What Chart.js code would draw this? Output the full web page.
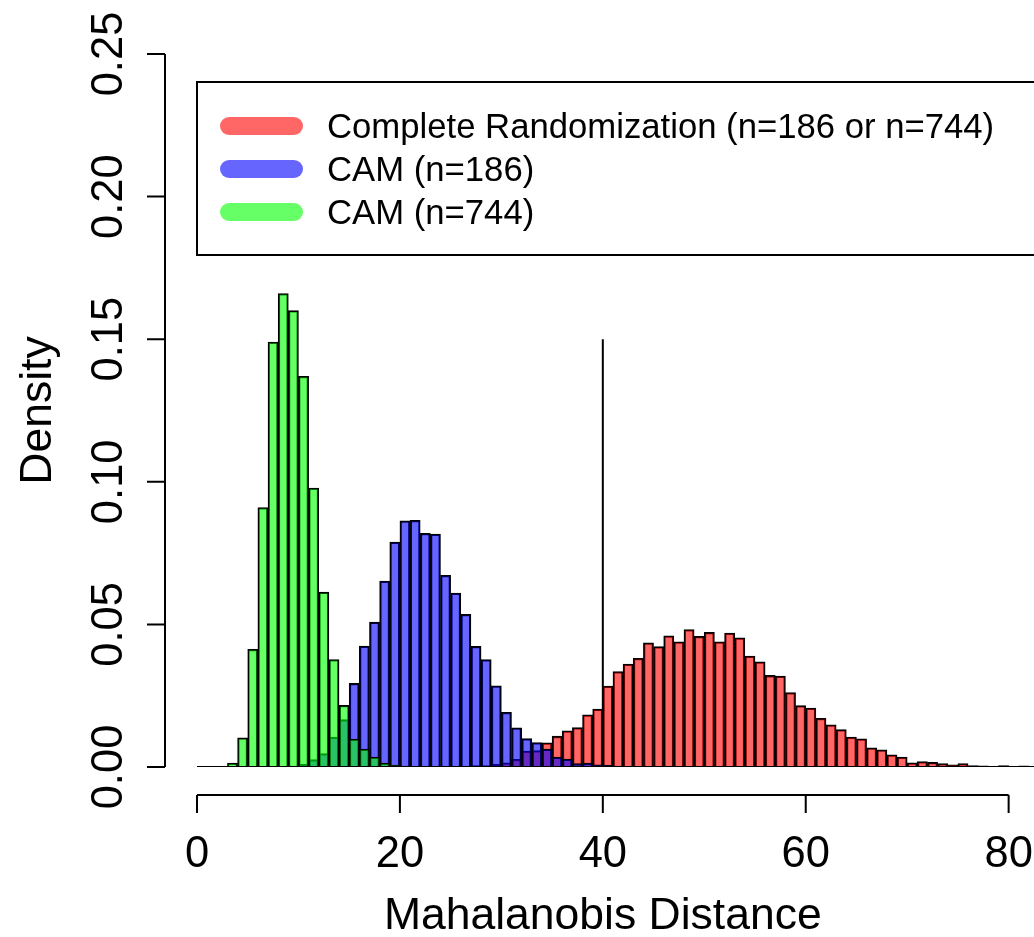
<!DOCTYPE html>
<html>
<head>
<meta charset="utf-8">
<script src="https://cdn.jsdelivr.net/npm/chart.js@4/dist/chart.umd.min.js"></script>
<style>
  html, body { margin: 0; padding: 0; background: #fff; }
  #wrap { width: 1034px; height: 937px; position: relative; }
</style>
</head>
<body>
<div id="wrap"><canvas id="grafico"></canvas></div>
<script>
// bin lower edges (width 1)
const binStarts = [];
for (let i = 0; i <= 82; i++) binStarts.push(i);

// density per bin
const densCR = [
  0, 0, 0, 0, 0, 0, 0, 0, 0, 0,
  0, 0, 0, 0, 0, 0, 0, 0, 0, 0,
  0, 0, 0.0001, 0.0001, 0.0001, 0.0002, 0.0002, 0.0005, 0.0005, 0.0009,
  0.0015, 0.0027, 0.0056, 0.0058, 0.0085, 0.0108, 0.0127, 0.0138, 0.0183, 0.0203,
  0.0284, 0.0335, 0.0361, 0.0381, 0.0435, 0.0422, 0.0460, 0.0439, 0.0482, 0.0458,
  0.0472, 0.0439, 0.0470, 0.0453, 0.0389, 0.0369, 0.0321, 0.0319, 0.0261, 0.0215,
  0.0207, 0.0171, 0.0148, 0.0131, 0.0105, 0.0099, 0.0067, 0.0060, 0.0043, 0.0035,
  0.0015, 0.0019, 0.0016, 0.0012, 0.0008, 0.0012, 0.0005, 0.0004, 0.0002, 0.0005,
  0.0002, 0.0004, 0.0001
];
const densCAM186 = [
  0, 0, 0, 0, 0, 0, 0, 0, 0, 0.0003,
  0.0009, 0.0026, 0.0047, 0.0105, 0.0166, 0.0293, 0.0424, 0.0508, 0.0652, 0.0789,
  0.0863, 0.0865, 0.0819, 0.0817, 0.0672, 0.0610, 0.0535, 0.0423, 0.0377, 0.0285,
  0.0192, 0.0137, 0.0100, 0.0086, 0.0063, 0.0035, 0.0028, 0.0012, 0.0014, 0.0008,
  0.0006, 0.0003, 0.0002, 0.0001
];
const densCAM744 = [
  0, 0, 0, 0.0014, 0.0102, 0.0413, 0.0910, 0.1490, 0.1660, 0.1600,
  0.1370, 0.0978, 0.0613, 0.0377, 0.0216, 0.0098, 0.0063, 0.0035, 0.0014, 0.0007,
  0.0003, 0.0001
];

const legendLabels = ['Complete Randomization (n=186 or n=744)', 'CAM (n=186)', 'CAM (n=744)'];
const xTicks = [0, 20, 40, 60, 80];
const xTickLabels = ['0', '20', '40', '60', '80'];
const yTicks = [0, 0.05, 0.10, 0.15, 0.20, 0.25];
const yTickLabels = ['0.00', '0.05', '0.10', '0.15', '0.20', '0.25'];
const cutoff = 40;       // vertical reference line
const cutoffTop = 0.15;

const colRojo = 'rgba(255, 0, 0, 0.6)';
const colAzul = 'rgba(0, 0, 255, 0.6)';
const colVerde = 'rgba(0, 255, 0, 0.6)';

function toPoints(values) {
  return values.map((v, i) => ({ x: binStarts[i] + 0.5, y: v }));
}

const FONT = '"Liberation Sans", Arial, Helvetica, sans-serif';

// R style detached axes, axis titles and legend box
const ejesR = {
  id: 'ejesR',
  afterDraw(chart) {
    const { ctx, scales: { x, y } } = chart;
    ctx.save();
    ctx.strokeStyle = '#000';
    ctx.fillStyle = '#000';
    ctx.lineWidth = 2;

    // y axis
    const yAxisX = 165;
    ctx.beginPath();
    ctx.moveTo(yAxisX, y.getPixelForValue(yTicks[0]));
    ctx.lineTo(yAxisX, y.getPixelForValue(yTicks[yTicks.length - 1]));
    yTicks.forEach(t => {
      const py = y.getPixelForValue(t);
      ctx.moveTo(yAxisX, py);
      ctx.lineTo(147, py);
    });
    ctx.stroke();
    ctx.font = '43.5px ' + FONT;
    ctx.textAlign = 'center';
    ctx.textBaseline = 'alphabetic';
    yTicks.forEach((t, i) => {
      ctx.save();
      ctx.translate(122, y.getPixelForValue(t));
      ctx.rotate(-Math.PI / 2);
      ctx.fillText(yTickLabels[i], 0, 0);
      ctx.restore();
    });

    // x axis
    const xAxisY = 795;
    ctx.beginPath();
    ctx.moveTo(x.getPixelForValue(xTicks[0]), xAxisY);
    ctx.lineTo(x.getPixelForValue(xTicks[xTicks.length - 1]), xAxisY);
    xTicks.forEach(t => {
      const px = x.getPixelForValue(t);
      ctx.moveTo(px, xAxisY);
      ctx.lineTo(px, 813);
    });
    ctx.stroke();
    xTicks.forEach((t, i) => {
      ctx.fillText(xTickLabels[i], x.getPixelForValue(t), 867);
    });

    // axis titles
    ctx.font = '44.5px ' + FONT;
    ctx.fillText('Mahalanobis Distance', x.getPixelForValue(40), 929);
    ctx.save();
    ctx.translate(51, (y.top + y.bottom) / 2);
    ctx.rotate(-Math.PI / 2);
    ctx.fillText('Density', 0, 0);
    ctx.restore();

    // legend box
    ctx.lineWidth = 2;
    ctx.strokeRect(197, 82, 900, 173);
    const filas = [126, 169, 212];
    const cols = [colRojo, colAzul, colVerde];
    ctx.lineCap = 'round';
    ctx.lineWidth = 18;
    filas.forEach((fy, i) => {
      ctx.strokeStyle = cols[i];
      ctx.beginPath();
      ctx.moveTo(229, fy);
      ctx.lineTo(294, fy);
      ctx.stroke();
    });
    ctx.font = '34.7px ' + FONT;
    ctx.textAlign = 'left';
    filas.forEach((fy, i) => {
      ctx.fillText(legendLabels[i], 327, fy + 12.4);
    });
    ctx.restore();
  }
};

const ctx = document.getElementById('grafico').getContext('2d');
const barStyle = { borderColor: '#000', borderWidth: 1.6, barPercentage: 1, categoryPercentage: 1, grouped: false };

new Chart(ctx, {
  type: 'bar',
  data: {
    datasets: [
      { label: legendLabels[2], data: toPoints(densCAM744), backgroundColor: colVerde, order: 3, ...barStyle },
      { label: legendLabels[1], data: toPoints(densCAM186), backgroundColor: colAzul, order: 4, ...barStyle },
      { label: legendLabels[0], data: toPoints(densCR), backgroundColor: colRojo, order: 5, ...barStyle },
      {
        type: 'line', label: 'baseline',
        data: [{ x: 0, y: 0 }, { x: 82.5, y: 0 }],
        borderColor: '#000', borderWidth: 2, pointRadius: 0, order: 1
      },
      {
        type: 'line', label: 'cutoff',
        data: [{ x: cutoff, y: 0 }, { x: cutoff, y: cutoffTop }],
        borderColor: '#000', borderWidth: 2, pointRadius: 0, order: 2
      }
    ]
  },
  options: {
    responsive: true,
    maintainAspectRatio: false,
    animation: false,
    layout: { padding: { left: 197, right: 0, top: 54, bottom: 170 } },
    scales: {
      x: { type: 'linear', min: 0, max: 82.5, offset: false, display: false, ticks: { stepSize: 20 } },
      y: { min: 0, max: 0.25, display: false }
    },
    plugins: {
      legend: { display: false },
      tooltip: { enabled: false }
    }
  },
  plugins: [ejesR]
});
</script>
</body>
</html>
